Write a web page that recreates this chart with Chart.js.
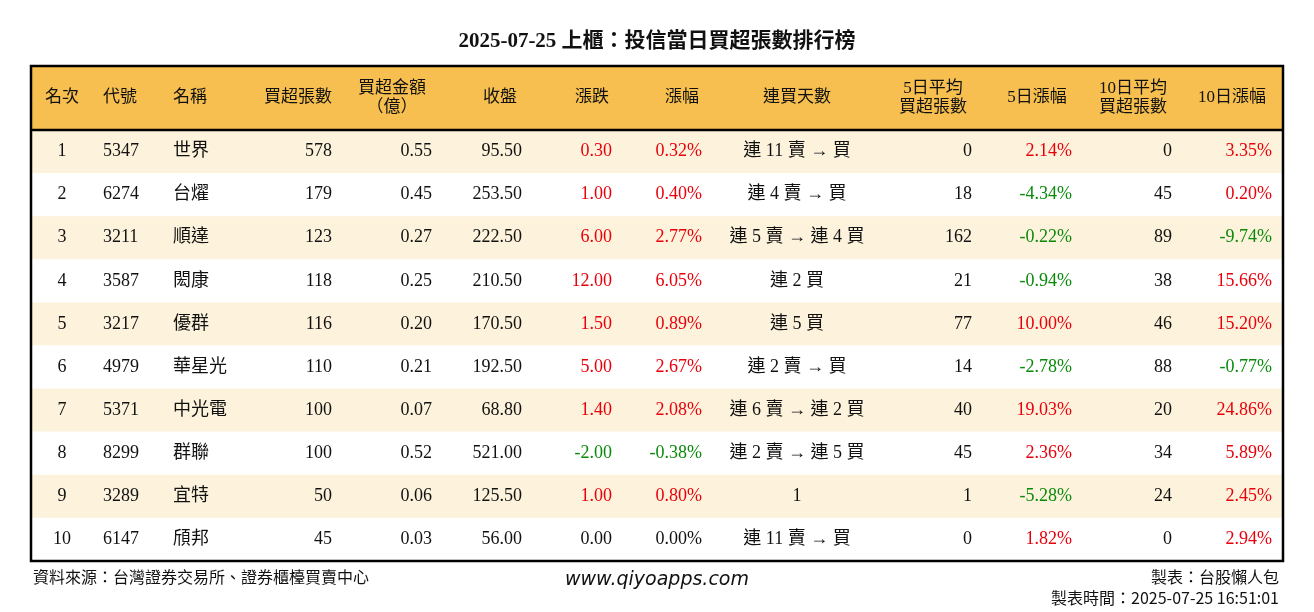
<!DOCTYPE html>
<html><head><meta charset="utf-8">
<script src="https://cdn.jsdelivr.net/npm/chart.js@4"></script>
<style>html,body{margin:0;padding:0;background:#fff}#w{width:1314px;height:612px}</style>
</head><body><div id="w"><canvas id="c"></canvas></div>
<script>
const title = "2025-07-25 上櫃：投信當日買超張數排行榜";
const headers = ["名次","代號","名稱","買超張數","買超金額\n（億）","收盤","漲跌","漲幅","連買天數","5日平均\n買超張數","5日漲幅","10日平均\n買超張數","10日漲幅"];
const ranks = [1,2,3,4,5,6,7,8,9,10];
const codes = ["5347","6274","3211","3587","3217","4979","5371","8299","3289","6147"];
const names = ["世界","台燿","順達","閎康","優群","華星光","中光電","群聯","宜特","頎邦"];
const netBuy = [578,179,123,118,116,110,100,100,50,45];
const amount = ["0.55","0.45","0.27","0.25","0.20","0.21","0.07","0.52","0.06","0.03"];
const closePx = ["95.50","253.50","222.50","210.50","170.50","192.50","68.80","521.00","125.50","56.00"];
const change = ["0.30","1.00","6.00","12.00","1.50","5.00","1.40","-2.00","1.00","0.00"];
const pct = ["0.32%","0.40%","2.77%","6.05%","0.89%","2.67%","2.08%","-0.38%","0.80%","0.00%"];
const streak = ["連 11 賣 → 買","連 4 賣 → 買","連 5 賣 → 連 4 買","連 2 買","連 5 買","連 2 賣 → 買","連 6 賣 → 連 2 買","連 2 賣 → 連 5 買","1","連 11 賣 → 買"];
const avg5 = [0,18,162,21,77,14,40,45,1,0];
const pct5 = ["2.14%","-4.34%","-0.22%","-0.94%","10.00%","-2.78%","19.03%","2.36%","-5.28%","1.82%"];
const avg10 = [0,45,89,38,46,88,20,34,24,0];
const pct10 = ["3.35%","0.20%","-9.74%","15.66%","15.20%","-0.77%","24.86%","5.89%","2.45%","2.94%"];
const source = "資料來源：台灣證券交易所、證券櫃檯買賣中心";
const site = "www.qiyoapps.com";
const maker = "製表：台股懶人包";
const madeTime = "製表時間：2025-07-25 16:51:01";

const HEAD_H = 64, ROW_H = 43.1;
const cols = [
 ["center",31,31],["left",72,72],["left",142,142],["right",301,301],["center",361,401],
 ["center",469,491],["center",561,581],["center",651,671],["center",766,766],
 ["center",902,941],["center",1006,1041],["center",1102,1141],["center",1201,1241]
];
const cellAlign = ["center","left","left","right","right","right","right","right","center","right","right","right","right"];
const RED="#e8000b", GREEN="#0a8a0a", BLACK="#111";
function col(v){ if(v.startsWith("-")) return GREEN; if(/^0\.00/.test(v)) return BLACK; return RED; }
const FONT = "'Liberation Serif','Noto Sans CJK TC',serif";

const tablePlugin = {
 id:"table",
 beforeDraw(ch){
  const c=ch.ctx, xs=ch.scales.x, ys=ch.scales.y;
  const X=v=>xs.getPixelForValue(v), Y=v=>ys.getPixelForValue(v);
  c.save();
  c.fillStyle="#fff"; c.fillRect(0,0,ch.width,ch.height);
  c.fillStyle=BLACK; c.font="bold 21px "+FONT; c.textAlign="center"; c.textBaseline="middle";
  c.fillText(title,657,42);
  c.fillStyle="#f6bf4f"; c.fillRect(X(0),Y(0),X(1252)-X(0),Y(HEAD_H)-Y(0));
  for(let i=0;i<ranks.length;i++){
    const y0=HEAD_H+i*ROW_H;
    c.fillStyle = i%2===0 ? "#fdf3dc" : "#ffffff";
    c.fillRect(X(0),Y(y0),X(1252)-X(0),Y(y0+ROW_H)-Y(y0));
  }
  c.fillStyle=BLACK; c.font="17px "+FONT;
  headers.forEach((h,j)=>{
    const lines=h.split("\n"); c.textAlign=cols[j][0];
    const cy=Y(HEAD_H/2);
    lines.forEach((l,k)=>c.fillText(l,X(cols[j][1]),cy+(k-(lines.length-1)/2)*19));
  });
  c.font="18px "+FONT;
  for(let i=0;i<ranks.length;i++){
    const cy=Y(HEAD_H+i*ROW_H+ROW_H/2);
    const row=[ranks[i],codes[i],names[i],netBuy[i],amount[i],closePx[i],change[i],pct[i],streak[i],avg5[i],pct5[i],avg10[i],pct10[i]];
    row.forEach((v,j)=>{
      let color=BLACK;
      if([6,7,10,12].includes(j)) color=col(String(v));
      c.fillStyle=color; c.textAlign=cellAlign[j];
      c.fillText(String(v),X(cols[j][2]),cy);
    });
  }
  c.strokeStyle="#000"; c.lineWidth=2.5;
  c.strokeRect(X(0),Y(0),X(1252)-X(0),Y(495)-Y(0));
  c.beginPath(); c.moveTo(X(0),Y(HEAD_H)); c.lineTo(X(1252),Y(HEAD_H)); c.stroke();
  c.fillStyle=BLACK; c.font="16px 'Noto Sans CJK TC',sans-serif"; c.textAlign="left";
  c.fillText(source,33,577);
  c.textAlign="right"; c.fillText(maker,1279,577); c.fillText(madeTime,1279,598);
  c.textAlign="center"; c.font="italic 19px 'DejaVu Sans',sans-serif"; c.fillText(site,657,580);
  c.restore();
 }
};

new Chart(document.getElementById("c"),{
 type:"scatter",
 data:{datasets:[{data:[],pointRadius:0}]},
 options:{
  responsive:true, maintainAspectRatio:false, animation:false,
  layout:{padding:{left:31,right:31,top:66,bottom:51}},
  plugins:{legend:{display:false},tooltip:{enabled:false}},
  scales:{
   x:{type:"linear",min:0,max:1252,display:false},
   y:{type:"linear",min:0,max:495,reverse:true,display:false}
  }
 },
 plugins:[tablePlugin]
});
</script></body></html>
